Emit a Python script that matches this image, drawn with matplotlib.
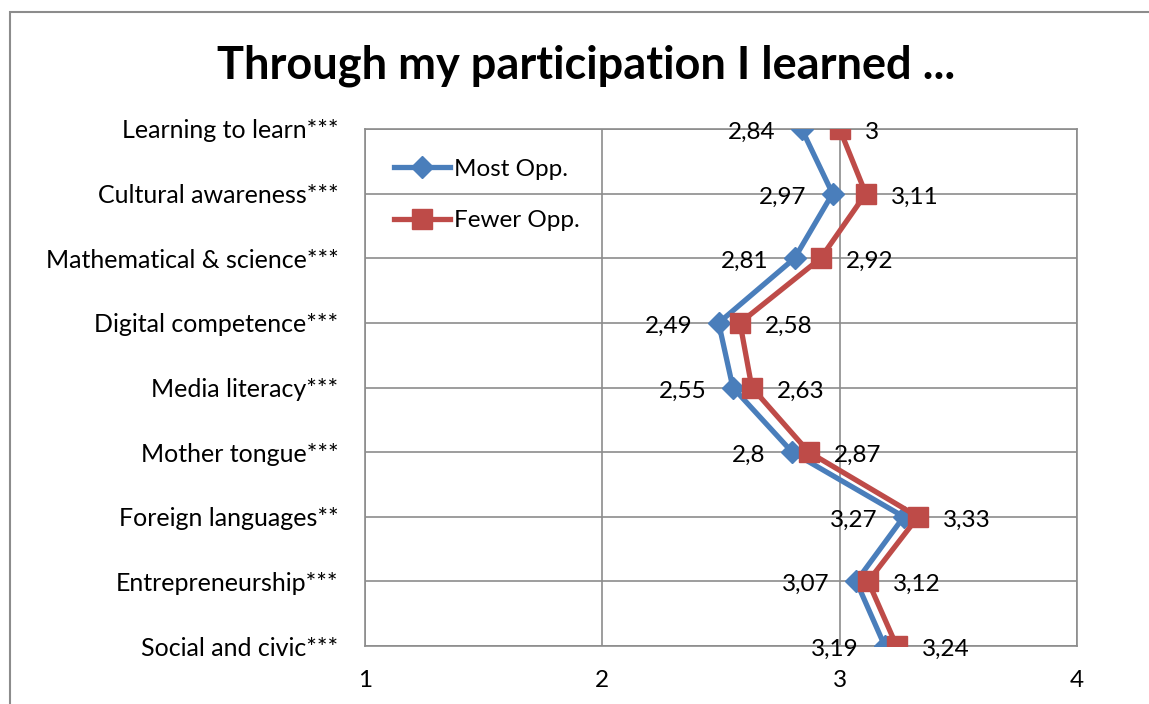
import matplotlib.pyplot as plt
from matplotlib.patches import Rectangle

plt.rcParams['font.family'] = ['Lato', 'DejaVu Sans']

# categories top to bottom
categories = ['Learning to learn***', 'Cultural awareness***', 'Mathematical & science***',
              'Digital competence***', 'Media literacy***', 'Mother tongue***',
              'Foreign languages**', 'Entrepreneurship***', 'Social and civic***']
most_opp = [2.84, 2.97, 2.81, 2.49, 2.55, 2.8, 3.27, 3.07, 3.19]
fewer_opp = [3, 3.11, 2.92, 2.58, 2.63, 2.87, 3.33, 3.12, 3.24]
x_ticks = [1, 2, 3, 4]

blue = '#4A7EBB'
red = '#BE4B48'
grid_c = '#8C8C8C'
fs = 17.5

fig = plt.figure(figsize=(11.49, 7.04), dpi=100)
ax = fig.add_axes([365 / 1149, 1 - 646 / 704, (1077 - 365) / 1149, (646 - 129) / 704])

ypos = list(range(len(categories)))

ax.plot(most_opp, ypos, color=blue, lw=3.8, marker='D', ms=11, label='Most Opp.', zorder=3)
ax.plot(fewer_opp, ypos, color=red, lw=3.8, marker='s', ms=14, label='Fewer Opp.', zorder=4)

def fmt(v):
    return ('%g' % v).replace('.', ',')

for x, y in zip(most_opp, ypos):
    ax.annotate(fmt(x), (x, y), xytext=(-19, -1), textcoords='offset points',
                ha='right', va='center_baseline', fontsize=fs, zorder=5)
for x, y in zip(fewer_opp, ypos):
    ax.annotate(fmt(x), (x, y), xytext=(18, -1), textcoords='offset points',
                ha='left', va='center_baseline', fontsize=fs, zorder=5)

ax.set_xlim(1, 4)
ax.set_ylim(len(categories) - 1, 0)
ax.set_xticks(x_ticks)
ax.set_xticklabels([str(t) for t in x_ticks])
ax.set_yticks(ypos)
ax.set_yticklabels(categories, va='center_baseline', fontsize=18)
ax.tick_params(length=0, labelsize=fs)
ax.tick_params(axis='y', pad=19, labelsize=18)
ax.tick_params(axis='x', pad=17)
ax.grid(True, color=grid_c, lw=1.2)
ax.set_axisbelow(True)
for s in ax.spines.values():
    s.set_color(grid_c)
    s.set_linewidth(1.2)

ax.legend(loc='upper left', bbox_to_anchor=(0.01, 0.985), frameon=False, fontsize=fs,
          handlelength=2.3, handletextpad=0.15, labelspacing=1.25)

fig.text(586 / 1149, 1 - 66 / 704, 'Through my participation I learned ...',
         ha='center', va='center', fontsize=32.5, fontweight='bold')

fig.patches.append(Rectangle((10 / 1149, -0.1), 1.2, 1.1 - 12 / 704, transform=fig.transFigure,
                             fill=False, edgecolor=grid_c, lw=1.5))

fig.savefig('out.png', dpi=100)
